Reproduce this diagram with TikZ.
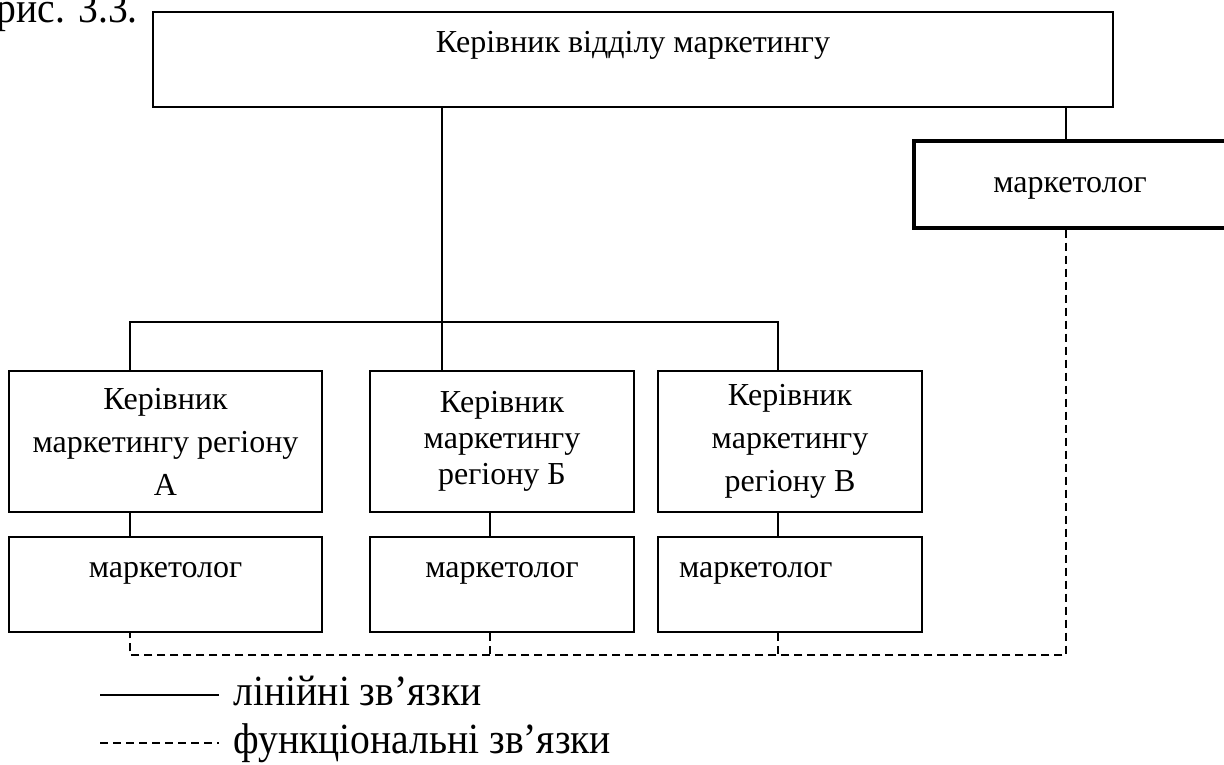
\documentclass[tikz,border=0pt]{standalone}
\usepackage{fontspec}
\setmainfont{Liberation Serif}
\newfontfamily\legendfont[FakeStretch=0.92]{Liberation Serif}
\begin{document}
\begin{tikzpicture}[x=1pt,y=-1pt,line width=1.6pt]
    \tikzstyle{unit}=[rectangle,draw,line width=2pt,inner sep=0pt,font=\fontsize{32}{43}\selectfont]
    \tikzstyle{top unit}=[unit,text height=40pt,text depth=55pt]
    \tikzstyle{region unit}=[unit,minimum height=141pt,align=center]
    \tikzstyle{func link}=[dash pattern=on 8pt off 5pt]
    \tikzstyle{annot}=[font=\legendfont\fontsize{43}{50}\selectfont,inner sep=0pt]

    \useasboundingbox (0,0) rectangle (1224,764);

    \node[annot,anchor=base west] (fig) at (-4,22) {рис. 3.3.};

    % Draw the head of the department
    \node[top unit,minimum width=960pt] (H) at (633,59.5) {Керівник відділу маркетингу};

    % Draw the regional managers
    \foreach \name / \x / \w / \lead / \txt in {1/165.5/313/43/{Керівник\\маркетингу регіону\\А},
                                               2/502/264/36/{Керівник\\маркетингу\\регіону Б},
                                               3/790/264/43/{Керівник\\маркетингу\\регіону В}}
      \node[region unit,minimum width=\w pt,font=\fontsize{32}{\lead}\selectfont] (R-\name) at (\x,441.5) {\txt};

    % Draw the marketers
    \foreach \name / \x / \w in {1/165.5/313, 2/502/264}
      \node[top unit,minimum width=\w pt] (M-\name) at (\x,584.5) {маркетолог};
    \node[top unit,text width=222pt,inner xsep=21pt,align=left] (M-3) at (790,584.5) {маркетолог};
    \node[unit,line width=3.3pt,minimum width=312pt,minimum height=87pt,text height=22pt,text depth=7pt] (M-0) at (1070,184.5) {маркетолог};

    % Draw the line links
    \coordinate (F-0) at (1066,655);
    \coordinate (F-1) at (130,655);
    \coordinate (F-2) at (490,655);
    \coordinate (F-3) at (778,655);
    \coordinate (hub) at (442,322);
    \draw (hub |- H.south) -- (hub |- R-2.north);
    \draw (F-1 |- R-1.north) -- (F-1 |- hub) -- (F-3 |- hub) -- (F-3 |- R-3.north);
    \foreach \name in {1,...,3}
      \draw (F-\name |- R-\name.south) -- (F-\name |- M-\name.north);
    \draw (F-0 |- H.south) -- (F-0 |- M-0.north);

    % Draw the functional links
    \draw[func link] (F-0 |- M-0.south) -- (F-0) -- (F-1) -- (F-1 |- M-1.south);
    \foreach \name in {2,3}
      \draw[func link] (F-\name |- M-\name.south) -- (F-\name);

    % Legend
    \coordinate (L-1) at (100,695);
    \coordinate (L-2) at (219,695);
    \coordinate (L-3) at (100,743);
    \coordinate (L-4) at (219,743);
    \draw (L-1) -- (L-2);
    \draw[func link] (L-3) -- (L-4);
    \node[annot,anchor=base west] (lin) at (233,705) {лінійні зв’язки};
    \node[annot,anchor=base west] (fun) at (233,753) {функціональні зв’язки};
\end{tikzpicture}
\end{document}
